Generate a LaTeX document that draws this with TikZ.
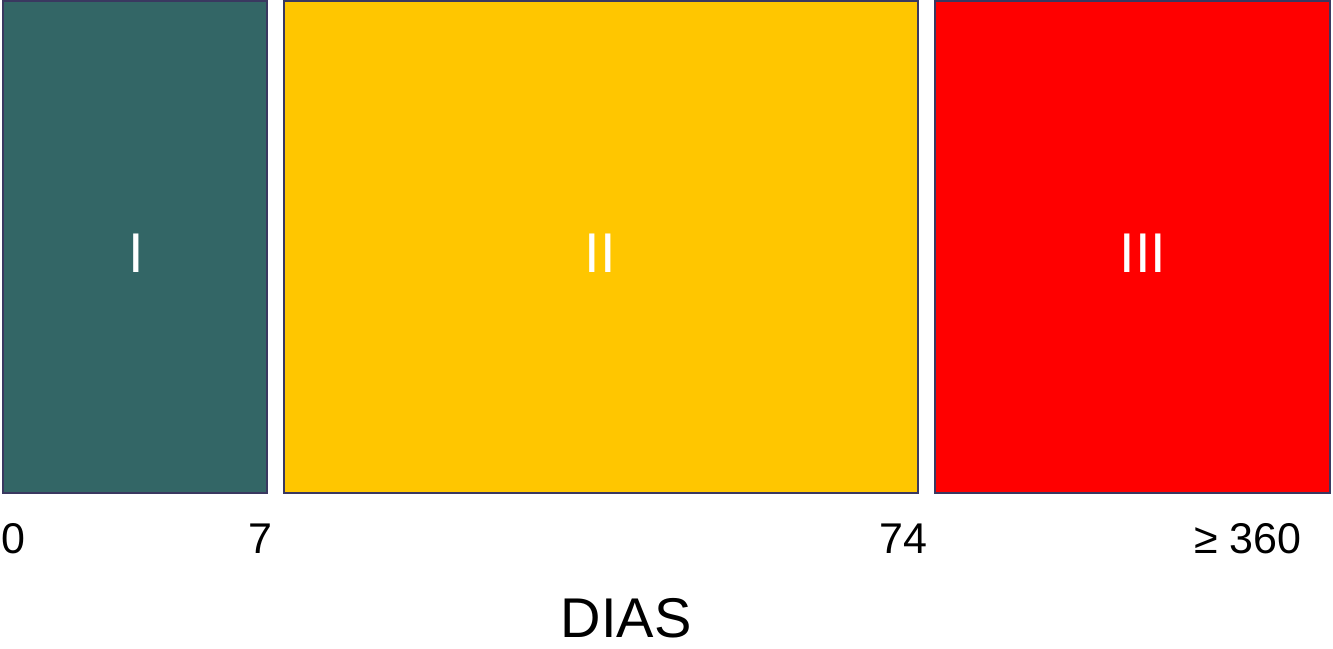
\documentclass[tikz,border=0pt]{standalone}
\usepackage{fontspec}
\setmainfont{Liberation Sans}
\definecolor{teal1}{HTML}{336666}
\definecolor{gold1}{HTML}{FFC600}
\definecolor{red1}{HTML}{FF0000}
\definecolor{edge1}{HTML}{3A3860}
\begin{document}
\begin{tikzpicture}[x=1pt,y=-1pt,
  stagebox/.style={draw=edge1,line width=2pt},
  roman/.style={text=white,font=\fontsize{56}{60}\selectfont,anchor=base},
  tick/.style={text=black,font=\fontsize{43}{48}\selectfont,anchor=base,inner sep=0pt}]
\useasboundingbox (0,0) rectangle (1333,648);
\fill[white] (0,0) rectangle (1333,648);
\draw[stagebox,fill=teal1] (3,1) rectangle (267,493);
\draw[stagebox,fill=gold1] (284,1) rectangle (918,493);
\draw[stagebox,fill=red1] (935,1) rectangle (1330,493);
\node[roman] (r1) at (136,272) {I};
\node[roman] (r2) at (600,272) {II};
\node[roman] (r3) at (1143,272) {III};
\node[tick] (t0) at (13,553) {0};
\node[tick] (t7) at (260,553) {7};
\node[tick] (t74) at (903,553) {74};
\node[tick] (t360) at (1248,553) {≥ 360};
\node[tick,font=\fontsize{56}{60}\selectfont] (dias) at (626,637) {DIAS};
\end{tikzpicture}
\end{document}
